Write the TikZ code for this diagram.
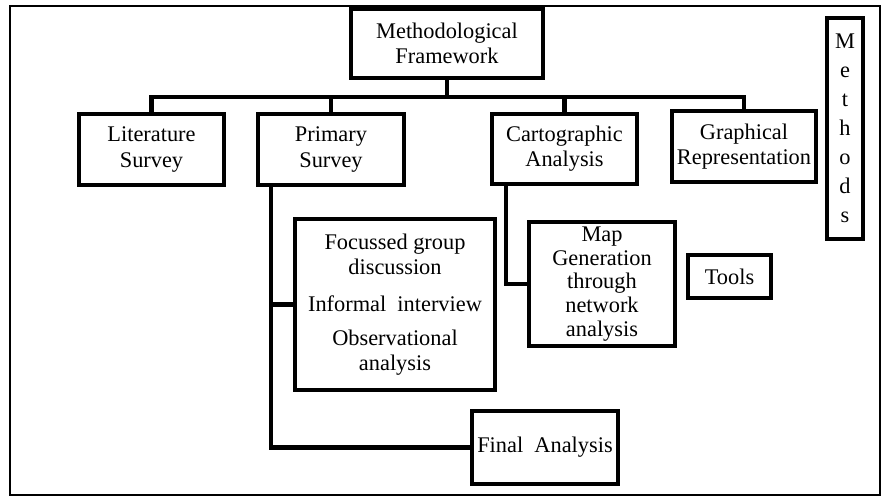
\documentclass[tikz,border=0pt]{standalone}
\usepackage{fontspec}
\setmainfont{Liberation Serif}
\usetikzlibrary{positioning,calc}

\begin{document}
\begin{tikzpicture}[x=0.025cm, y=-0.025cm,
  blk/.style={draw, line width=3pt, align=center, inner sep=0pt,
              font=\fontsize{15.9}{17.8}\selectfont},
  link/.style={line width=3pt},
  thinlink/.style={line width=0.7pt}]
  \useasboundingbox (0,0) rectangle (883,496);
  \draw[line width=1.2pt] (10,6) rectangle (880,495);

  \node[blk, minimum width=4.8cm, minimum height=1.725cm] (frame) at (447,43.5) {Methodological\\Framework};
  \node[blk, minimum width=3.625cm, minimum height=1.775cm] (lit) at (151.5,149.5) {Literature\\Survey};
  \node[blk, minimum width=3.65cm, minimum height=1.775cm] (prim) at (331,149.5) {Primary\\Survey};
  \node[blk, minimum width=3.625cm, minimum height=1.75cm] (carto) at (564.5,149) {Cartographic\\Analysis};
  \node[blk, minimum width=3.6cm, minimum height=1.775cm] (graph) at (744,146.5) {Graphical\\Representation};
  \node[blk, minimum width=0.9cm, minimum height=5.525cm,
        font=\fontsize{15.9}{20.6}\selectfont] (meth) at (845,128.5) {M\\e\\t\\h\\o\\d\\s};

  \node[blk, minimum width=5cm, minimum height=4.275cm] (focus) at (395,304.5)
    {Focussed group\\discussion\\[8.5pt]Informal\ \ interview\\[6.4pt]Observational\\analysis};
  \node[blk, minimum width=3.65cm, minimum height=3.1cm,
        font=\fontsize{15.9}{17}\selectfont] (map) at (602,284)
    {Map\\Generation\\through\\network\\analysis};
  \node[blk, minimum width=2.075cm, minimum height=1.075cm] (tools) at (729.5,276.5) {Tools};
  \node[blk, minimum width=3.65cm, minimum height=1.825cm] (final) at (545,447.5) {Final\ \ Analysis};

  % tree under the framework
  \coordinate (bus) at (447,97);
  \draw[link] (frame.south) -- (bus);
  \draw[link] (lit.north) |- (bus) -| (graph.north);
  \draw[link] (prim.north) -- (prim.north |- bus);
  \draw[link] (carto.north) -- (carto.north |- bus);

  % branches
  \coordinate (pstem) at ($(prim.south west)+(15,0)$);
  \draw[link] (pstem) |- (final.west);
  \draw[link] (focus.west) -- (focus.west -| pstem);
  \draw[link] ($(carto.south west)+(16,0)$) |- (map.west);
  \draw[thinlink] ($(map.south west)+(48,0)$) -- ($(map.south west)+(48,0)$ |- final.north);
\end{tikzpicture}
\end{document}
